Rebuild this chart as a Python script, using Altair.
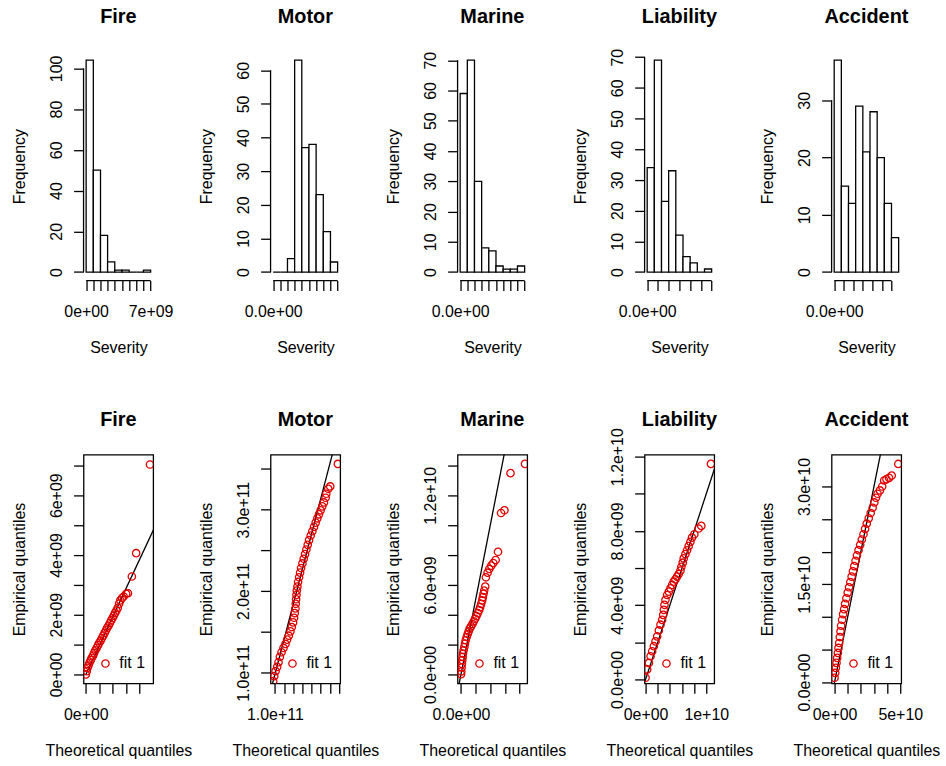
import altair as alt
import pandas as pd

# ---------------------------------------------------------------------------
# Severity histograms: bin edges (scaled by the panel unit) and bin counts
# ---------------------------------------------------------------------------
fire_breaks = [0.0, 0.78, 1.56, 2.33, 3.11, 3.89, 4.67, 5.44, 6.22, 7.0]          # x 1e9
fire_counts = [104, 50, 18, 5, 1, 1, 0, 0, 1]
motor_breaks = [0.0, 0.5, 1.0, 1.5, 2.0, 2.5, 3.0, 3.5, 4.0, 4.5]                # x 1e11
motor_counts = [0, 0, 4, 63, 37, 38, 23, 12, 3]
marine_breaks = [0.0, 1.6, 3.2, 4.8, 6.4, 8.0, 9.6, 11.2, 12.8, 14.4]            # x 1e9
marine_counts = [59, 70, 30, 8, 7, 2, 1, 1, 2]
liability_breaks = [0.0, 1.33, 2.67, 4.0, 5.33, 6.67, 8.0, 9.33, 10.67, 12.0]    # x 1e9
liability_counts = [34, 69, 23, 33, 12, 5, 3, 0, 1]
accident_breaks = [0.0, 3.75, 7.5, 11.25, 15.0, 18.75, 22.5, 26.25, 30.0, 33.75]  # x 1e9
accident_counts = [37, 15, 12, 29, 21, 28, 20, 12, 6]

# histogram axis ticks and the labels that are printed
fire_sev_ticks = fire_breaks
fire_sev_labels = [(0.0, "0e+00"), (7.0, "7e+09")]
motor_sev_ticks = motor_breaks
motor_sev_labels = [(0.0, "0.0e+00")]
marine_sev_ticks = marine_breaks
marine_sev_labels = [(0.0, "0.0e+00")]
liability_sev_ticks = [0, 2, 4, 6, 8, 10, 12]
liability_sev_labels = [(0.0, "0.0e+00")]
accident_sev_ticks = [0, 5, 10, 15, 20, 25, 30]
accident_sev_labels = [(0.0, "0.0e+00")]

fire_freq_ticks = [0, 20, 40, 60, 80, 100]
motor_freq_ticks = [0, 10, 20, 30, 40, 50, 60]
marine_freq_ticks = [0, 10, 20, 30, 40, 50, 60, 70]
liability_freq_ticks = [0, 10, 20, 30, 40, 50, 60, 70]
accident_freq_ticks = [0, 10, 20, 30]

# ---------------------------------------------------------------------------
# Q-Q plots: theoretical vs empirical quantiles (same unit as above)
# ---------------------------------------------------------------------------
fire_theoretical = [0.00, 0.07, 0.12, 0.20, 0.27, 0.37, 0.44, 0.54, 0.61, 0.71, 0.81, 0.91,
                    1.00, 1.10, 1.20, 1.30, 1.40, 1.50, 1.59, 1.69, 1.79, 1.89, 1.99, 2.08,
                    2.18, 2.28, 2.38, 2.48, 2.57, 2.70, 2.82, 3.01, 3.14, 3.43, 3.75, 4.78]
fire_empirical = [0.00, 0.11, 0.22, 0.30, 0.39, 0.48, 0.56, 0.63, 0.72, 0.81, 0.89, 0.98,
                  1.06, 1.13, 1.22, 1.30, 1.39, 1.48, 1.56, 1.63, 1.72, 1.81, 1.89, 1.97,
                  2.06, 2.14, 2.23, 2.37, 2.48, 2.56, 2.61, 2.70, 2.72, 3.28, 4.06, 7.03]
fire_line = ([0.0, 5.1], [0.0, 4.9])

motor_theoretical = [0.909, 0.964, 1.036, 1.127, 1.199, 1.272, 1.362, 1.471, 1.580, 1.670,
                     1.761, 1.851, 1.924, 1.996, 2.051, 2.087, 2.123, 2.141, 2.159, 2.178,
                     2.196, 2.232, 2.268, 2.322, 2.377, 2.431, 2.504, 2.576, 2.649, 2.721,
                     2.793, 2.866, 2.957, 3.047, 3.138, 3.228, 3.319, 3.409, 3.500, 3.591,
                     3.681, 3.772, 3.808, 3.917, 4.025, 4.442]
motor_empirical = [0.898, 0.959, 1.020, 1.073, 1.130, 1.195, 1.252, 1.305, 1.354, 1.407,
                   1.455, 1.508, 1.561, 1.618, 1.675, 1.732, 1.789, 1.846, 1.902, 1.955,
                   2.008, 2.057, 2.114, 2.171, 2.228, 2.285, 2.341, 2.398, 2.455, 2.512,
                   2.569, 2.626, 2.683, 2.736, 2.789, 2.841, 2.894, 2.943, 2.992, 3.041,
                   3.089, 3.146, 3.195, 3.256, 3.285, 3.561]
motor_line = ([0.80, 4.20], [0.807, 3.732])

marine_theoretical = [0.02, 0.11, 0.23, 0.34, 0.46, 0.57, 0.69, 0.92, 1.15, 1.38, 1.61, 1.95,
                      2.30, 2.64, 2.99, 3.45, 3.91, 4.37, 4.83, 5.29, 5.75, 6.21, 6.55, 6.90,
                      7.24, 7.47, 7.70, 7.93, 8.28, 8.51, 9.08, 9.66, 10.34, 11.03, 11.84,
                      12.64, 13.68, 14.83, 16.90, 21.84]
marine_empirical = [0.02, 0.20, 0.47, 0.71, 0.96, 1.18, 1.40, 1.62, 1.84, 2.07, 2.29, 2.51,
                    2.71, 2.89, 3.07, 3.22, 3.38, 3.56, 3.73, 3.91, 4.11, 4.31, 4.51, 4.73,
                    4.96, 5.18, 5.40, 5.62, 5.89, 6.51, 6.82, 7.07, 7.29, 7.47, 7.67,
                    8.22, 10.82, 11.00, 13.49, 14.11]
marine_line = ([-1.2, 15.5], [-1.2, 15.5])

liability_theoretical = [0.00, 0.27, 0.55, 0.82, 1.09, 1.37, 1.64, 1.91, 2.19, 2.46, 2.73, 2.90,
                         3.01, 3.11, 3.28, 3.55, 3.83, 4.10, 4.37, 4.64, 4.92, 5.19, 5.46, 5.74,
                         5.90, 6.12, 6.28, 6.56, 6.83, 7.10, 7.38, 7.65, 8.03, 8.74, 9.18, 10.77]
liability_empirical = [0.09, 0.54, 0.89, 1.25, 1.52, 1.79, 2.05, 2.32, 2.64, 2.95, 3.21, 3.48,
                       3.75, 4.02, 4.29, 4.55, 4.73, 4.91, 5.09, 5.27, 5.39, 5.54, 5.68, 5.86,
                       6.07, 6.29, 6.52, 6.75, 6.96, 7.18, 7.41, 7.64, 7.82, 8.13, 8.27, 11.61]
liability_line = ([-0.3, 11.5], [-0.3, 11.5])

accident_theoretical = [0.0, 0.5, 1.0, 1.5, 2.0, 2.5, 3.0, 3.5, 4.0, 4.5, 5.0, 5.75, 6.5, 7.25,
                        8.0, 9.0, 10.0, 11.0, 12.0, 13.0, 14.0, 15.0, 16.0, 17.0, 18.25, 19.5,
                        20.75, 22.0, 23.25, 24.5, 26.0, 27.5, 29.0, 30.25, 31.5, 32.75, 34.5,
                        36.25, 37.75, 39.5, 41.5, 43.5, 48.5]
accident_empirical = [0.66, 1.42, 2.19, 2.95, 3.71, 4.47, 5.24, 6.00, 6.91, 7.78, 8.64, 9.56,
                      10.42, 11.18, 12.00, 12.86, 13.73, 14.54, 15.35, 16.17, 16.98, 17.79,
                      18.61, 19.42, 20.23, 21.05, 21.86, 22.67, 23.49, 24.30, 25.11, 25.93,
                      26.74, 27.55, 28.27, 28.88, 29.39, 29.99, 30.91, 31.11, 31.32, 31.67, 33.45]
accident_line = ([-2.5, 36.0], [-2.5, 36.0])

# Q-Q axis ranges, ticks and printed labels
fire_qq_xdomain, fire_qq_ydomain = [-0.17, 5.02], [-0.30, 7.36]
fire_qq_xticks, fire_qq_xlabels = [0, 1, 2, 3, 4], [(0.0, "0e+00")]
fire_qq_yticks = [0, 1, 2, 3, 4, 5, 6, 7]
fire_qq_ylabels = [(0.0, "0e+00"), (2.0, "2e+09"), (4.0, "4e+09"), (6.0, "6e+09")]

motor_qq_xdomain, motor_qq_ydomain = [0.764, 4.569], [0.870, 3.675]
motor_qq_xticks, motor_qq_xlabels = [1.0, 1.5, 2.0, 2.5, 3.0, 3.5, 4.0, 4.5], [(1.0, "1.0e+11")]
motor_qq_yticks = [1.0, 1.5, 2.0, 2.5, 3.0, 3.5]
motor_qq_ylabels = [(1.0, "1.0e+11"), (2.0, "2.0e+11"), (3.0, "3.0e+11")]

marine_qq_xdomain, marine_qq_ydomain = [-1.15, 22.6], [-0.6, 14.73]
marine_qq_xticks, marine_qq_xlabels = [0, 5, 10, 15, 20], [(0.0, "0.0e+00")]
marine_qq_yticks = [0, 2, 4, 6, 8, 10, 12, 14]
marine_qq_ylabels = [(0.0, "0.0e+00"), (6.0, "6.0e+09"), (12.0, "1.2e+10")]

liability_qq_xdomain, liability_qq_ydomain = [-0.16, 11.31], [-0.214, 12.11]
liability_qq_xticks = [0, 2, 4, 6, 8, 10]
liability_qq_xlabels = [(0.0, "0e+00"), (10.0, "1e+10")]
liability_qq_yticks = [0, 2, 4, 6, 8, 10, 12]
liability_qq_ylabels = [(0.0, "0.0e+00"), (4.0, "4.0e+09"), (8.0, "8.0e+09"), (12.0, "1.2e+10")]

accident_qq_xdomain, accident_qq_ydomain = [-2.25, 50.75], [-0.2, 34.88]
accident_qq_xticks = [0, 10, 20, 30, 40, 50]
accident_qq_xlabels = [(0.0, "0e+00"), (50.0, "5e+10")]
accident_qq_yticks = [0, 5, 10, 15, 20, 25, 30]
accident_qq_ylabels = [(0.0, "0.0e+00"), (15.0, "1.5e+10"), (30.0, "3.0e+10")]

# ---------------------------------------------------------------------------
W, H = 70, 230
FONT = "Liberation Sans"
INK = "black"
RED = "#e00000"
LW = 1.3


def label_expr(labels, unit):
    """Print only the listed tick values, R style."""
    parts = []
    for v, text in labels:
        val = v * unit
        tol = abs(val) * 1e-6 + 1e-3
        parts.append(f"abs(datum.value - ({val!r})) < {tol!r} ? '{text}'")
    return " : ".join(parts) + " : ''"


def panel_title(name):
    """Bold panel heading drawn above the plot area."""
    return alt.Chart(pd.DataFrame({"name": [name]})).mark_text(
        font=FONT, fontSize=20, fontWeight="bold", color=INK, align="center",
        baseline="alphabetic").encode(text="name:N", x=alt.value(W / 2), y=alt.value(-29))


def hist_panel(name, breaks, counts, unit, sev_ticks, sev_labels, freq_ticks):
    edges = [b * unit for b in breaks]
    bins = pd.DataFrame({"start": edges[:-1], "end": edges[1:], "count": counts,
                         "base": [0] * len(counts)})
    span = edges[-1] - edges[0]
    top = max(counts)
    xs = alt.Scale(domain=[edges[0] - 0.04 * span, edges[-1] + 0.04 * span], nice=False, zero=False)
    ys = alt.Scale(domain=[-0.04 * top, 1.04 * top], nice=False, zero=False)
    xt = [t * unit for t in sev_ticks]
    x_axis = alt.Axis(title="Severity", values=xt, labelExpr=label_expr(sev_labels, unit))
    y_axis = alt.Axis(title="Frequency", values=freq_ticks)

    bars = alt.Chart(bins).mark_rect(fill="white", stroke=INK, strokeWidth=LW).encode(
        x=alt.X("start:Q", scale=xs, axis=x_axis), x2="end",
        y=alt.Y("count:Q", scale=ys, axis=y_axis), y2="base")
    # axis lines run from the first to the last tick only
    x_line = alt.Chart(pd.DataFrame({"a": [xt[0]], "b": [xt[-1]]})).mark_rule(
        color=INK, strokeWidth=LW).encode(
        x=alt.X("a:Q", scale=xs, axis=x_axis), x2="b", y=alt.value(H))
    y_line = alt.Chart(pd.DataFrame({"a": [freq_ticks[0]], "b": [freq_ticks[-1]]})).mark_rule(
        color=INK, strokeWidth=LW).encode(
        y=alt.Y("a:Q", scale=ys, axis=y_axis), y2="b", x=alt.value(0))
    return alt.layer(bars, x_line, y_line, panel_title(name)).properties(width=W, height=H)


def qq_panel(name, theo, emp, line, unit, xdom, ydom, xticks, xlabels, yticks, ylabels):
    pts = pd.DataFrame({"theoretical": [t * unit for t in theo],
                        "empirical": [e * unit for e in emp],
                        "series": ["fit 1"] * len(theo)})
    ref = pd.DataFrame({"theoretical": [v * unit for v in line[0]],
                        "empirical": [v * unit for v in line[1]]})
    xs = alt.Scale(domain=[d * unit for d in xdom], nice=False, zero=False)
    ys = alt.Scale(domain=[d * unit for d in ydom], nice=False, zero=False)
    x_axis = alt.Axis(title="Theoretical quantiles", values=[t * unit for t in xticks],
                      labelExpr=label_expr(xlabels, unit))
    y_axis = alt.Axis(title="Empirical quantiles", values=[t * unit for t in yticks],
                      labelExpr=label_expr(ylabels, unit))

    diag = alt.Chart(ref).mark_line(color=INK, strokeWidth=LW, clip=True).encode(
        x=alt.X("theoretical:Q", scale=xs, axis=x_axis),
        y=alt.Y("empirical:Q", scale=ys, axis=y_axis))
    dots = alt.Chart(pts).mark_point(shape="circle", filled=False, size=55, strokeWidth=1.3,
                                     opacity=1, clip=True).encode(
        x=alt.X("theoretical:Q", scale=xs, axis=x_axis),
        y=alt.Y("empirical:Q", scale=ys, axis=y_axis),
        color=alt.Color("series:N", scale=alt.Scale(range=[RED]),
                        legend=alt.Legend(title=None, orient="none", legendX=14, legendY=202,
                                          symbolType="circle", symbolSize=55,
                                          symbolStrokeWidth=1.3, labelOffset=6, padding=0)))
    return alt.layer(diag, dots, panel_title(name)).properties(
        width=W, height=H, view=alt.ViewBackground(stroke=INK, strokeWidth=LW))


hists = [
    hist_panel("Fire", fire_breaks, fire_counts, 1e9, fire_sev_ticks, fire_sev_labels, fire_freq_ticks),
    hist_panel("Motor", motor_breaks, motor_counts, 1e11, motor_sev_ticks, motor_sev_labels, motor_freq_ticks),
    hist_panel("Marine", marine_breaks, marine_counts, 1e9, marine_sev_ticks, marine_sev_labels, marine_freq_ticks),
    hist_panel("Liability", liability_breaks, liability_counts, 1e9, liability_sev_ticks,
               liability_sev_labels, liability_freq_ticks),
    hist_panel("Accident", accident_breaks, accident_counts, 1e9, accident_sev_ticks,
               accident_sev_labels, accident_freq_ticks),
]

qqs = [
    qq_panel("Fire", fire_theoretical, fire_empirical, fire_line, 1e9, fire_qq_xdomain, fire_qq_ydomain,
             fire_qq_xticks, fire_qq_xlabels, fire_qq_yticks, fire_qq_ylabels),
    qq_panel("Motor", motor_theoretical, motor_empirical, motor_line, 1e11, motor_qq_xdomain, motor_qq_ydomain,
             motor_qq_xticks, motor_qq_xlabels, motor_qq_yticks, motor_qq_ylabels),
    qq_panel("Marine", marine_theoretical, marine_empirical, marine_line, 1e9, marine_qq_xdomain,
             marine_qq_ydomain, marine_qq_xticks, marine_qq_xlabels, marine_qq_yticks, marine_qq_ylabels),
    qq_panel("Liability", liability_theoretical, liability_empirical, liability_line, 1e9,
             liability_qq_xdomain, liability_qq_ydomain, liability_qq_xticks, liability_qq_xlabels,
             liability_qq_yticks, liability_qq_ylabels),
    qq_panel("Accident", accident_theoretical, accident_empirical, accident_line, 1e9,
             accident_qq_xdomain, accident_qq_ydomain, accident_qq_xticks, accident_qq_xlabels,
             accident_qq_yticks, accident_qq_ylabels),
]

chart = alt.concat(
    *hists, *qqs, columns=5, bounds="flush",
    spacing=alt.RowColnumber(row=175, column=118),
).resolve_scale(color="independent").properties(
    padding={"left": 10, "top": 4, "right": 5, "bottom": 5},
    background="white",
).configure(font=FONT).configure_view(
    stroke="transparent"
).configure_axis(
    domain=False, grid=False, ticks=True, tickColor=INK, tickWidth=LW, tickSize=10,
    labelFont=FONT, labelFontSize=16, labelColor=INK, labelOverlap=False, labelFlush=False,
    titleFont=FONT, titleFontSize=16, titleColor=INK, titleFontWeight="normal",
).configure_axisY(
    labelAngle=270, labelAlign="center", labelBaseline="alphabetic", labelPadding=12,
    titleAngle=270, titleAlign="center", titleBaseline="alphabetic", titleX=-59.5, titleY=115,
).configure_axisX(
    labelAngle=0, labelAlign="center", labelBaseline="alphabetic", labelPadding=26,
    titleAlign="center", titleBaseline="alphabetic", titleX=35, titleY=72,
).configure_legend(
    labelFont=FONT, labelFontSize=16, labelColor=INK,
)

chart.save("out.html", embed_options={"renderer": "svg", "actions": False})
